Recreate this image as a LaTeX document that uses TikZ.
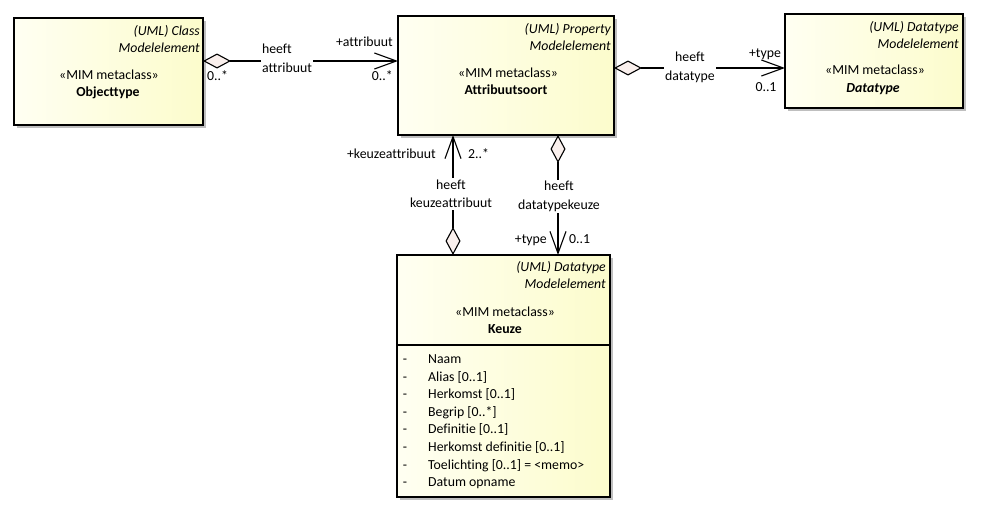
\documentclass[tikz,border=0pt]{standalone}
\usepackage{fontspec}
\setmainfont{Carlito}[Ligatures=NoCommon]
\usetikzlibrary{arrows.meta,shadows}
\definecolor{boxL}{RGB}{255,255,242}
\definecolor{boxR}{RGB}{252,252,204}
\definecolor{dmd}{RGB}{250,240,237}
\begin{document}
\begin{tikzpicture}[x=1pt,y=-1pt,
  font=\fontsize{13.8}{18.5}\selectfont,
  umlbox/.style={draw=black, line width=1.2pt, left color=boxL, right color=boxR,
    inner sep=0pt, outer sep=0pt, anchor=north west,
    drop shadow={shadow xshift=3pt, shadow yshift=-3pt, fill=black!25, opacity=1}},
  txt/.style={inner sep=0pt},
  meta/.style={txt, font=\fontsize{13.8}{18.5}\selectfont\itshape, anchor=base east},
  assoc/.style={draw=black, line width=1.1pt},
  agg/.style={arrows={Diamond[length=28pt,width=15pt,fill=dmd]-Straight Barb[length=22pt,width=16pt]}},
  lbl/.style={fill=white, inner sep=1.5pt, align=center},
  mult/.style={txt}
]
\useasboundingbox (0,0) rectangle (982,514);

% boxes
\node[umlbox, minimum width=189pt, minimum height=107pt] (obj) at (14,18) {};
\node[umlbox, minimum width=216pt, minimum height=119pt] (attr) at (398,16) {};
\node[umlbox, minimum width=178pt, minimum height=94pt] (dt) at (785,14) {};
\node[umlbox, minimum width=213pt, minimum height=242pt] (keu) at (397,255) {};
\draw[line width=1.2pt] (keu.west |- 0,345) -- (keu.east |- 0,345);

% Objecttype texts
\node[meta] (obj1) at (200,35.5) {(UML) Class};
\node[meta] (obj2) at (200,52.5) {Modelelement};
\node[txt, anchor=base] (obj3) at (109,79.5) {«MIM metaclass»};
\node[txt, anchor=base, font=\fontsize{13.8}{18.5}\selectfont\bfseries] (obj4) at (108,96) {Objecttype};

% Attribuutsoort texts
\node[meta] (att1) at (611,33.5) {(UML) Property};
\node[meta] (att2) at (611,50.5) {Modelelement};
\node[txt, anchor=base] (att3) at (508,77.5) {«MIM metaclass»};
\node[txt, anchor=base, font=\fontsize{13.8}{18.5}\selectfont\bfseries] (att4) at (506,94.5) {Attribuutsoort};

% Datatype texts
\node[meta] (dt1) at (959,31.5) {(UML) Datatype};
\node[meta] (dt2) at (959,48) {Modelelement};
\node[txt, anchor=base] (dt3) at (875,74.5) {«MIM metaclass»};
\node[txt, anchor=base, font=\fontsize{13.8}{18.5}\selectfont\bfseries\itshape] (dt4) at (873,92.5) {Datatype};

% Keuze texts
\node[meta] (ke1) at (606,271.5) {(UML) Datatype};
\node[meta] (ke2) at (606,288.5) {Modelelement};
\node[txt, anchor=base] (ke3) at (505,316.5) {«MIM metaclass»};
\node[txt, anchor=base, font=\fontsize{13.8}{18.5}\selectfont\bfseries] (ke4) at (505,333.5) {Keuze};

\foreach \t [count=\i from 0] in {Naam,Alias [0..1],Herkomst [0..1],Begrip [0..*],Definitie [0..1],Herkomst definitie [0..1],Toelichting [0..1] = <memo>,Datum opname}{
  \node[txt, anchor=base] (kd\i) at (405,363.5+17.6*\i) {-};
  \node[txt, anchor=base west] (ka\i) at (428,363.5+17.6*\i) {\t};
}

% connectors
\draw[assoc,agg] ([yshift=10.5pt]obj.east) -- ([yshift=14.5pt]attr.west);
\draw[assoc,agg] ([yshift=7.5pt]attr.east) -- ([yshift=-7pt]dt.west);
\draw[assoc,agg] ([xshift=-50.5pt]keu.north) -- ([xshift=-53pt]attr.south);
\draw[assoc,agg] ([xshift=52pt]attr.south) -- ([xshift=54.5pt]keu.north);

% connector labels
\node[lbl, align=left] (l1) at (287,58.5) {heeft\\attribuut};
\node[mult, anchor=base west] (m1a) at (207,80) {0..*};
\node[mult, anchor=base east] (m1b) at (393,46) {+attribuut};
\node[mult, anchor=base east] (m1c) at (393,80) {0..*};

\node[lbl] (l2) at (690,67.5) {heeft\\datatype};
\node[mult, anchor=base] (m2a) at (765,57) {+type};
\node[mult, anchor=base] (m2b) at (766,91) {0..1};

\node[lbl] (l3) at (451,194) {heeft\\keuzeattribuut};
\node[mult, anchor=base east] (m3a) at (436,158) {+keuzeattribuut};
\node[mult, anchor=base west] (m3b) at (468,158) {2..*};

\node[lbl] (l4) at (559,196.5) {heeft\\datatypekeuze};
\node[mult, anchor=base east] (m4a) at (547,243) {+type};
\node[mult, anchor=base west] (m4b) at (569,243) {0..1};
\end{tikzpicture}
\end{document}
